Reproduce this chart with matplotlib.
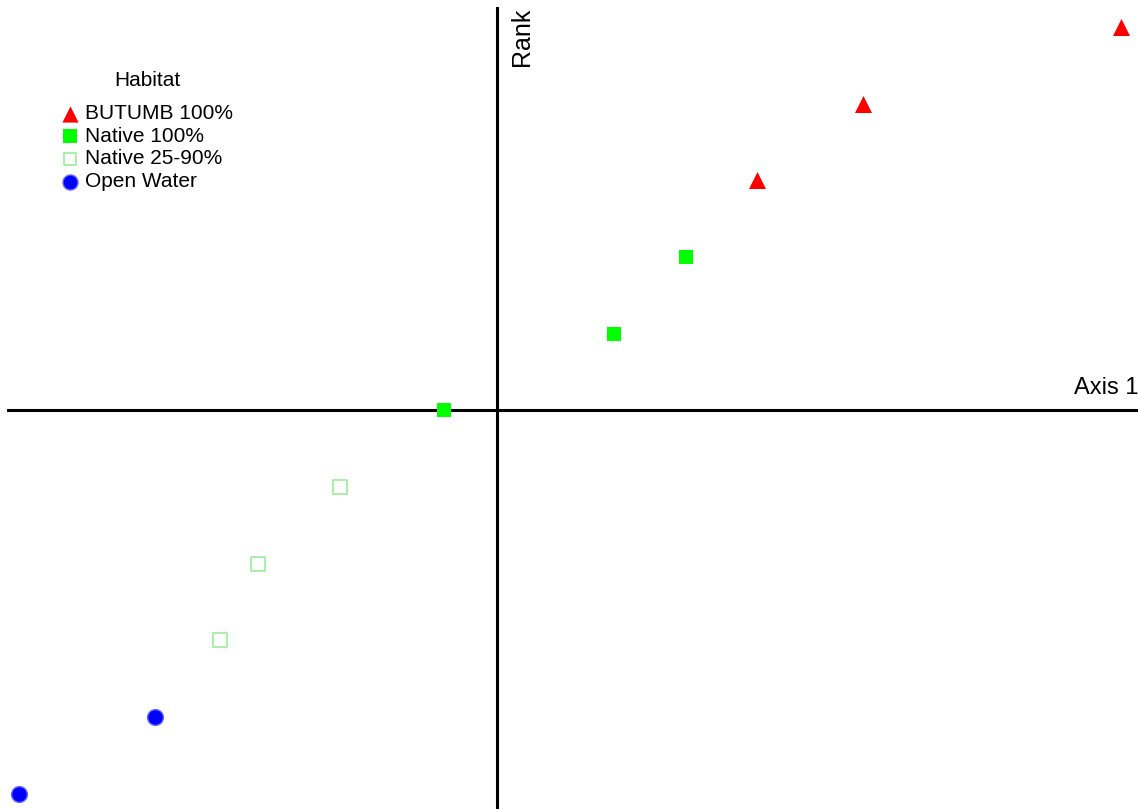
import matplotlib.pyplot as plt

plt.rcParams['font.family'] = ['Liberation Sans', 'DejaVu Sans']

# axis 1 scores and ranks per habitat group
butumb_x = [8.14, 4.78, 3.39]
butumb_y = [5, 4, 3]
native_x = [2.46, 1.53, -0.69]
native_y = [2, 1, 0]
partial_x = [-2.05, -3.12, -3.61]
partial_y = [-1, -2, -3]
water_x = [-4.46, -6.23]
water_y = [-4, -5]

labels = ["BUTUMB 100%", "Native 100%", "Native 25-90%", "Open Water"]

fig = plt.figure(figsize=(11.38, 8.09), dpi=100)
ax = fig.add_axes([0, 0, 1, 1])
ax.set_xlim(-6.48, 8.36)
ax.set_ylim(-5.20, 5.35)
ax.axis("off")

# cross-hair axes through the origin
ax.plot([-6.38, 8.36], [0, 0], color="black", lw=2.2, zorder=1)
ax.plot([0, 0], [-5.2, 5.24], color="black", lw=2.2, zorder=1)

ax.scatter(butumb_x, butumb_y, marker="^", s=150, color="#ff0000", lw=0, label=labels[0], zorder=3)
ax.scatter(native_x, native_y, marker="s", s=105, color="#00ff00", lw=0, label=labels[1], zorder=3)
ax.scatter(partial_x, partial_y, marker="s", s=95, facecolor="white", edgecolor="#99ee99",
           lw=1.2, label=labels[2], zorder=3)
ax.scatter(water_x, water_y, marker="o", s=130, color="#0000ff", edgecolor="#6a6aff",
           lw=1.0, label=labels[3], zorder=3)

ax.text(8.36, 0.15, "Axis 1", ha="right", va="bottom", fontsize=17)
ax.text(0.17, 5.25, "Rank", rotation=90, ha="left", va="top", fontsize=18)

leg = ax.legend(loc="upper left", bbox_to_anchor=(0.0446, 0.925), frameon=False,
                title="Habitat", fontsize=15, title_fontsize=15,
                handletextpad=0.35, labelspacing=0.18, borderpad=0, handlelength=0.8,
                scatterpoints=1, markerscale=0.95)
leg._legend_box.sep = 10

fig.savefig("out.png", dpi=100)
